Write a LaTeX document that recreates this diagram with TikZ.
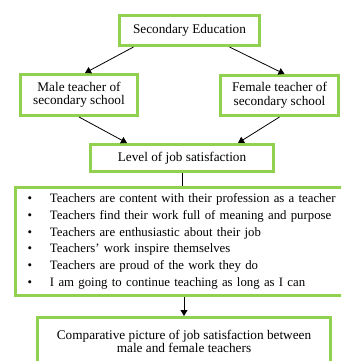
\documentclass[tikz,border=0pt]{standalone}
\usepackage{fontspec}
\setmainfont{Liberation Serif}
\usepackage{tikz}
\usetikzlibrary{arrows.meta}
\definecolor{boxgreen}{RGB}{146,208,80}
\newcommand{\bul}{\makebox[22.3pt][l]{\textbullet}}

\begin{document}
\begin{tikzpicture}[x=1pt,y=-1pt,
        box/.style={draw=boxgreen,line width=3pt,align=center,inner sep=2pt,
            font=\fontsize{13.25}{13.5}\selectfont},
        link/.style={-{Triangle[length=6pt,width=7pt]},line width=0.8pt}]
    \useasboundingbox (0,0) rectangle (341,361);
    \clip (0,0) rectangle (341,361);

    \node[box,minimum width=140pt,minimum height=30pt] (sec) at (189.5,30.5) {Secondary Education};
    \node[box,minimum width=117pt,minimum height=41pt] (male) at (79,95) {Male teacher of\\secondary school};
    \node[box,minimum width=118pt,minimum height=40pt] (female) at (279.5,95.5) {Female teacher of\\secondary school};
    \node[box,minimum width=183pt,minimum height=27pt] (level) at (182,158) {Level of job satisfaction};
    \node[box,anchor=west,minimum height=108pt,text width=320pt,inner xsep=12.2pt,align=left,
        font=\fontsize{12.8}{16.7}\selectfont] (list) at (14,241.5) {%
        \bul Teachers are content with their profession as a teacher\\
        \bul Teachers find their work full of meaning and purpose\\
        \bul Teachers are enthusiastic about their job\\
        \bul Teachers’ work inspire themselves\\
        \bul Teachers are proud of the work they do\\
        \bul I am going to continue teaching as long as I can};
    \node[box,minimum width=293pt,minimum height=48pt] (comp) at (184,341.5) {Comparative picture of job satisfaction between\\male and female teachers};

    % arrows between the boxes
    \draw[link] ([xshift=-56pt]sec.south) -- ([xshift=6pt]male.north);
    \draw[link] ([xshift=40pt]sec.south) -- ([xshift=5pt]female.north);
    \draw[link] (male.south) -- ([xshift=-55pt]level.north);
    \draw[link] (female.south) -- ([xshift=56pt]level.north);
    \draw[line width=0.8pt] (level.south) -- (level.south |- list.north);
    \draw[link] (comp.north |- list.south) -- (comp.north);
\end{tikzpicture}
\end{document}
